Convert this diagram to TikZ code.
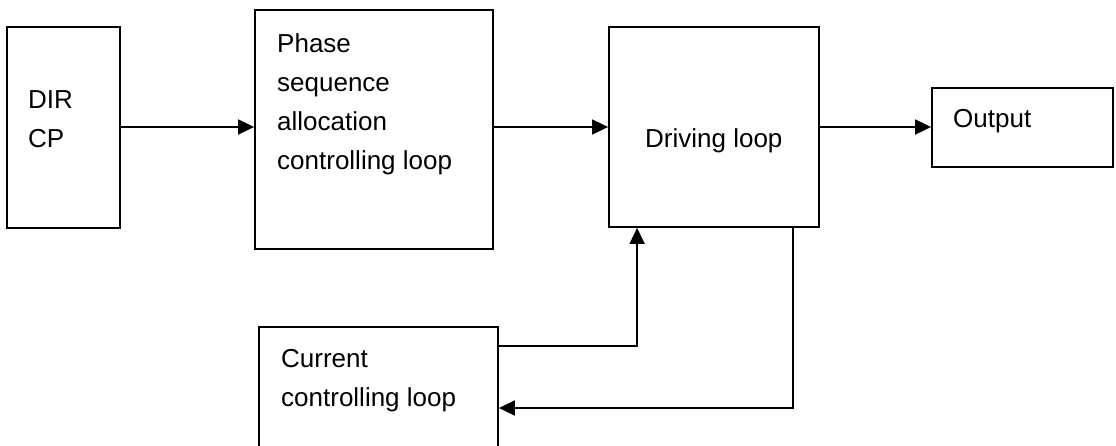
\documentclass[tikz,border=0pt]{standalone}
\usepackage{fontspec}
\setmainfont{Liberation Sans}
\usetikzlibrary{arrows.meta,calc}

\tikzset{
  blk/.style={draw=black, line width=1.8pt, inner sep=0pt, fill=white},
  lbl/.style={inner sep=0pt, anchor=base west, align=left,
              font=\fontsize{26}{39}\selectfont},
  arr/.style={line width=1.8pt, -{Triangle[length=16pt,width=15pt]}}
}

\begin{document}
\begin{tikzpicture}[x=1pt, y=-1pt]
  % page frame
  \fill[white] (0,0) rectangle (1116,445);
  \useasboundingbox (0,0) rectangle (1116,445);
  \clip (0,0) rectangle (1116,445);

  % blocks
  \node[blk, minimum width=113pt, minimum height=201pt] (dir)   at (63.5,127.5) {};
  \node[blk, minimum width=238pt, minimum height=239pt] (phase) at (374,129.5) {};
  \node[blk, minimum width=210pt, minimum height=200pt] (drive) at (714,127) {};
  \node[blk, minimum width=181pt, minimum height=79pt]  (out)   at (1022.5,127.5) {};
  \node[blk, minimum width=239pt, minimum height=153pt] (cur)   at (378.5,403.5) {};

  % block texts (anchored at the baseline of the last line)
  \node[lbl] (dirtext)   at (28,147)  {DIR\\CP};
  \node[lbl] (phasetext) at (277,169) {Phase\\sequence\\allocation\\controlling loop};
  \node[lbl] (drivetext) at (645,147) {Driving loop};
  \node[lbl] (outtext)   at (953,127) {Output};
  \node[lbl] (curtext)   at (281,406) {Current\\controlling loop};

  % forward path
  \draw[arr] (dir.east |- drive.west) -- (phase.west |- drive.west);
  \draw[arr] (phase.east |- drive.west) -- (drive.west);
  \draw[arr] (drive.east) -- (drive.east -| out.west);

  % current feedback loop
  \draw[arr] ([yshift=-20pt]cur.north east) -| ([xshift=29pt]drive.south west);
  \draw[arr] ([xshift=-27pt]drive.south east) |- ([yshift=-4.5pt]cur.east);
\end{tikzpicture}
\end{document}
